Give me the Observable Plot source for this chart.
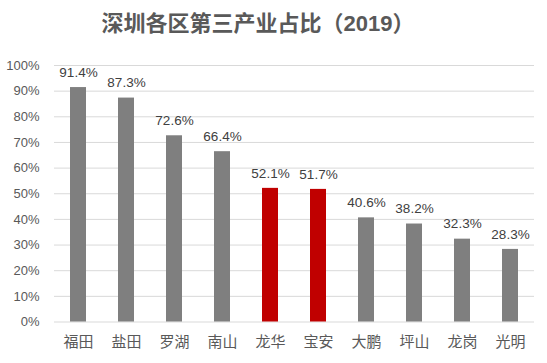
<!DOCTYPE html>
<html>
<head>
<meta charset="utf-8">
<script src="https://cdn.jsdelivr.net/npm/d3@7"></script>
<script src="https://cdn.jsdelivr.net/npm/@observablehq/plot@0.6"></script>
<style>
  html, body { margin: 0; padding: 0; background: #fff; }
  body { width: 547px; height: 363px; overflow: hidden; font-family: "Liberation Sans", "Noto Sans CJK SC", sans-serif; }
  #title { height: 45px; line-height: 48px; text-align: center; padding-right: 31px; font-size: 22px; font-weight: bold; color: #595959; }
</style>
</head>
<body>
<div id="title">深圳各区第三产业占比（2019）</div>
<div id="chart"></div>
<script>
const districts = ["福田", "盐田", "罗湖", "南山", "龙华", "宝安", "大鹏", "坪山", "龙岗", "光明"];
const shares = [91.4, 87.3, 72.6, 66.4, 52.1, 51.7, 40.6, 38.2, 32.3, 28.3];
const highlighted = ["龙华", "宝安"];
const yTicks = [0, 10, 20, 30, 40, 50, 60, 70, 80, 90, 100];

const data = districts.map((d, i) => ({district: d, share: shares[i], hi: highlighted.includes(d)}));

const chart = Plot.plot({
  width: 547,
  height: 318,
  marginTop: 20,
  marginBottom: 41.5,
  marginLeft: 54,
  marginRight: 13,
  style: {fontFamily: "'Liberation Sans', 'Noto Sans CJK SC', sans-serif", background: "#fff"},
  x: {domain: districts, paddingInner: 0.67, paddingOuter: 0.335, label: null},
  y: {domain: [0, 100], label: null},
  marks: [
    Plot.ruleY(yTicks, {stroke: "#d9d9d9", strokeWidth: 1}),
    Plot.barY(data, {x: "district", y: "share", fill: d => d.hi ? "#c00000" : "#7f7f7f"}),
    Plot.text(data, {x: "district", y: "share", text: d => d.share.toFixed(1) + "%", dy: -15, fontSize: 13.5, fill: "#404040"}),
    Plot.axisY({ticks: yTicks, tickFormat: d => d + "%", tickSize: 0, tickPadding: 15, fontSize: 13, fill: "#595959"}),
    Plot.axisX({tickSize: 0, tickPadding: 14, fontSize: 15, fill: "#595959", fontFamily: "'Noto Sans CJK SC', sans-serif"})
  ]
});
document.getElementById("chart").appendChild(chart);
</script>
</body>
</html>
